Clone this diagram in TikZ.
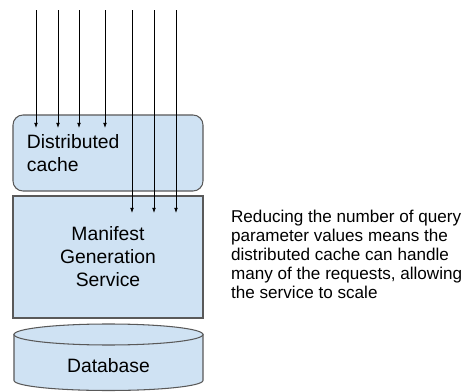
\documentclass[tikz,border=0pt]{standalone}
\usepackage{fontspec}
\setmainfont{Liberation Sans}
\usetikzlibrary{arrows.meta}
\definecolor{boxblue}{HTML}{CFE2F3}
\definecolor{edgegray}{HTML}{595959}
\tikzset{
  box/.style={draw=edgegray, fill=boxblue, line width=0.9pt, minimum width=5.7cm},
  boxtext/.style={font=\fontsize{16.5}{19.6}\selectfont},
  req/.style={->, >={Latex[length=1.5mm,width=1.1mm]}, line width=0.7pt}
}
\begin{document}
\begin{tikzpicture}[x=0.03cm, y=-0.03cm]
                \useasboundingbox (0, 0) rectangle (462, 392);
                \node[box, boxtext, rounded corners=0.3cm, minimum height=2.28cm, text width=4.86cm, inner xsep=0.42cm, align=left] (cache) at (108, 153) {Distributed\\cache};
                \node[box, boxtext, minimum height=3.66cm, align=center] (mgs) at (108, 257) {Manifest\\Generation\\Service};
                \draw[edgegray, line width=0.9pt, fill=boxblue] (14, 334.5) -- (14, 380.5) arc[start angle=180, end angle=0, x radius=94.5, y radius=10] -- (203, 334.5) -- cycle;
                \draw[edgegray, line width=0.9pt, fill=boxblue] (108.5, 334.5) ellipse[x radius=94.5, y radius=10.5];
                \node[boxtext] (db) at (108.5, 366) {Database};
                \node[anchor=west, align=left, font=\fontsize{14.6}{16.2}\selectfont] (note) at (227, 254) {Reducing the number of query\\parameter values means the\\distributed cache can handle\\many of the requests, allowing\\the service to scale};
                % requests served by the cache
                \foreach \x in {36, 58, 79, 105} {
                    \coordinate (in\x) at (\x, 10);
                    \coordinate (hit\x) at (\x, 128);
                    \draw[req] (in\x) -- (hit\x);
                }
                % requests passed on to the service
                \foreach \x in {132, 154, 176} {
                    \coordinate (in\x) at (\x, 10);
                    \coordinate (miss\x) at (\x, 213);
                    \draw[req] (in\x) -- (miss\x);
                }
            \end{tikzpicture}
\end{document}
